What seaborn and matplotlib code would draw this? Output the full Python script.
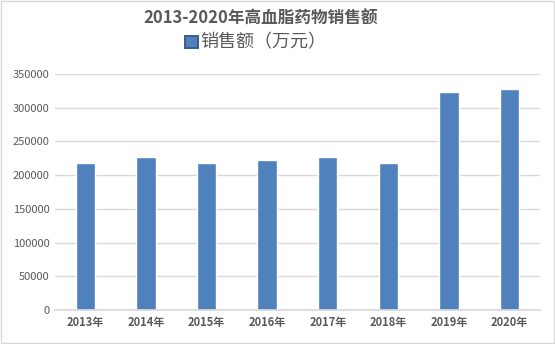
import matplotlib
matplotlib.use("Agg")
import matplotlib.pyplot as plt
import seaborn as sns
import pandas as pd
from matplotlib.patches import Rectangle

years = ["2013年", "2014年", "2015年", "2016年", "2017年", "2018年", "2019年", "2020年"]
sales = [218000, 227000, 218500, 222500, 227500, 218000, 323500, 328000]
title = "2013-2020年高血脂药物销售额"
series_name = "销售额（万元）"

sns.set_theme(style="white")
plt.rcParams['font.family'] = ['Noto Sans CJK SC', 'DejaVu Sans']

df = pd.DataFrame({"year": years, "sales": sales})

fig = plt.figure(figsize=(5.55, 3.44), dpi=100)
ax = fig.add_axes([0.099, 0.0988, 0.874, 0.686])
sns.barplot(data=df, x="year", y="sales", color="#4f81bd", saturation=1,
            width=0.32, ax=ax)
ax.set_ylim(0, 350000)
ax.set_xlim(-0.5, len(years) - 0.5)
ax.set_yticks(range(0, 350001, 50000))
ax.yaxis.grid(True, color="#d9d9d9", linewidth=1)
ax.set_axisbelow(True)
for s in ["top", "right", "left"]:
    ax.spines[s].set_visible(False)
ax.spines["bottom"].set_color("#d9d9d9")
ax.set_xlabel("")
ax.set_ylabel("")
ax.tick_params(axis="both", length=0, labelsize=8, colors="#595959", pad=4)
for t in ax.get_xticklabels():
    t.set_fontweight("bold")

fig.text(0.47, 0.945, title, ha="center", va="center", fontsize=12,
         fontweight="bold", color="#595959")
# legend
fig.patches.append(Rectangle((0.334, 0.86), 0.022, 0.034, transform=fig.transFigure,
                             facecolor="#4f81bd", edgecolor="#385d8a", linewidth=1.4))
fig.text(0.361, 0.876, series_name, ha="left", va="center", fontsize=13,
         color="#595959")

fig.patches.append(Rectangle((0.001, 0.002), 0.997, 0.995, transform=fig.transFigure,
                             facecolor="none", edgecolor="#d9d9d9", linewidth=1))
fig.savefig("out.png", dpi=100)
